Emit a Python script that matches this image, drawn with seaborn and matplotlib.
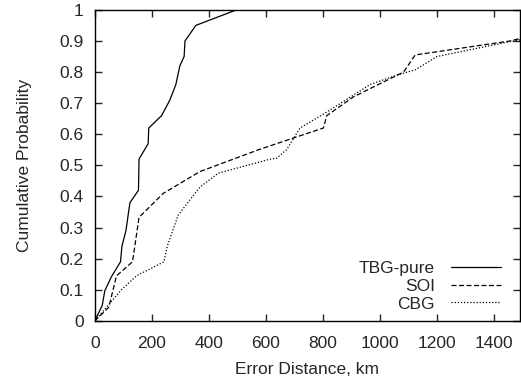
import pandas as pd
import matplotlib
matplotlib.use("Agg")
import matplotlib.pyplot as plt
import seaborn as sns

# Curve points (error distance km, cumulative probability)
tbg_x = [0, 26, 35, 58, 90, 95, 109, 123, 153, 155, 187, 189, 234, 263, 284, 298, 313, 316, 354, 497]
tbg_y = [0, 0.05, 0.097, 0.142, 0.19, 0.24, 0.29, 0.38, 0.42, 0.52, 0.57, 0.62, 0.66, 0.71, 0.76, 0.82, 0.85, 0.90, 0.95, 1.0]

soi_x = [0, 49, 76, 132, 155, 240, 368, 573, 719, 801, 813, 906, 1082, 1123, 1456, 1500]
soi_y = [0, 0.044, 0.145, 0.19, 0.333, 0.41, 0.48, 0.55, 0.595, 0.62, 0.66, 0.72, 0.80, 0.855, 0.90, 0.91]

cbg_x = [0, 53, 93, 146, 242, 254, 292, 368, 433, 614, 637, 672, 719, 807, 965, 1058, 1123, 1199, 1456, 1500]
cbg_y = [0, 0.057, 0.10, 0.145, 0.19, 0.24, 0.34, 0.43, 0.475, 0.52, 0.523, 0.55, 0.62, 0.668, 0.76, 0.79, 0.807, 0.85, 0.898, 0.905]

series = ["TBG-pure", "SOI", "CBG"]

frames = []
for name, xs, ys in zip(series, [tbg_x, soi_x, cbg_x], [tbg_y, soi_y, cbg_y]):
    frames.append(pd.DataFrame({"dist": xs, "prob": ys, "method": name}))
df = pd.concat(frames, ignore_index=True)

sns.set_style("ticks")
plt.rcParams["font.family"] = ["Liberation Sans", "DejaVu Sans"]

fig = plt.figure(figsize=(5.21, 3.78), dpi=100)
ax = fig.add_axes([0.182, 0.151, 0.816, 0.823])

sns.lineplot(data=df, x="dist", y="prob", hue="method", style="method",
             palette={s: "black" for s in series},
             dashes={"TBG-pure": "", "SOI": (4, 2), "CBG": (1, 1.5)},
             sort=False, estimator=None, linewidth=0.9, ax=ax)

ax.set_xlim(0, 1490)
ax.set_ylim(0, 1)
ax.set_xticks(range(0, 1401, 200))
ax.set_yticks([i / 10 for i in range(11)])
ax.set_yticklabels(["0"] + [f"{i/10:.1f}" for i in range(1, 10)] + ["1"])
ax.tick_params(direction="in", top=True, right=True, length=5, width=1, labelsize=12.5)
ax.tick_params(axis="x", pad=10.5)
ax.tick_params(axis="y", pad=8)
for sp in ax.spines.values():
    sp.set_visible(True)
    sp.set_linewidth(1)
    sp.set_color("black")

ax.set_xlabel("Error Distance, km", fontsize=12.5, labelpad=8)
ax.set_ylabel("Cumulative Probability", fontsize=12.5, labelpad=20)

ax.legend(title=None, loc="lower right", frameon=False, markerfirst=False,
          fontsize=12.5, handlelength=2.9, handletextpad=0.9, labelspacing=0.15,
          bbox_to_anchor=(0.992, -0.02))

fig.savefig("out.png", dpi=100)
